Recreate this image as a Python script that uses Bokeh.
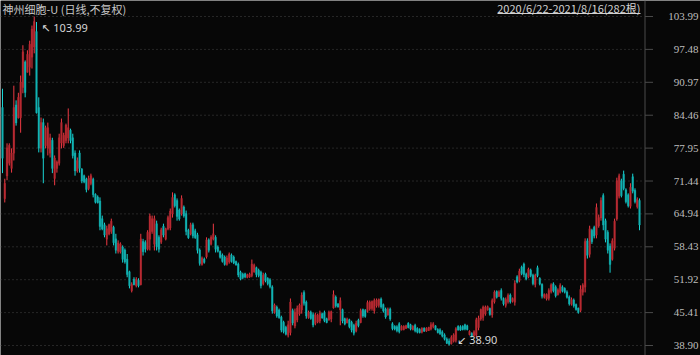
import numpy as np
from bokeh.plotting import figure
from bokeh.models import ColumnDataSource, Range1d, Label, BoxAnnotation, Span
from bokeh.embed import file_html
from bokeh.resources import INLINE

title_text = "神州细胞-U (日线,不复权)"
range_text = "2020/6/22-2021/8/16(282根)"
tick_values = [38.90, 45.41, 51.92, 58.43, 64.94, 71.44, 77.95, 84.46, 90.97, 97.48, 103.99]
tick_labels = ["38.90", "45.41", "51.92", "58.43", "64.94", "71.44", "77.95", "84.46", "90.97", "97.48", "103.99"]

opens = [86, 68, 72.5, 75, 74, 77, 86.5, 84, 84, 90, 95, 93, 94, 96, 98, 101, 86, 78, 83, 78.5,
         78, 77, 79.5, 72, 74, 75, 79, 78.5, 79.5, 80, 81.5, 80, 77, 73.5, 77, 73.8, 72.5, 71.8, 70, 71,
         71.8, 68.8, 68.3, 67.5, 64, 62.8, 60, 61, 61.5, 62.3, 60, 57.6, 57.5, 58.4, 57.8, 56, 53.5, 49.8, 52, 50.8,
         51.8, 51, 59.5, 59.3, 58, 60, 61.5, 59, 63, 60.3, 59.4, 62.5, 60, 62, 62.2, 65, 68.7, 67.6, 65.7, 65,
         66.3, 65, 61.7, 61, 62.8, 61.6, 60.8, 57.8, 55, 56, 56.5, 59.8, 59, 60, 60.3, 58.4, 57.5, 56.8, 56.4, 55,
         55.5, 56.8, 56.4, 55.5, 55, 53.4, 53, 53.1, 52.4, 52.5, 52.8, 53.5, 54.3, 53.8, 53.4, 51.2, 53, 52.2, 51.9, 50.5,
         45.5, 46.5, 45.9, 44.5, 43.5, 42.5, 41, 41.5, 45.8, 42.8, 44, 45.2, 46, 49.4, 47.5, 44.5, 45.5, 45, 43.3, 43.6,
         43.8, 45.2, 45.4, 44.2, 44, 44.2, 46.4, 48.5, 47.1, 46, 46, 44.2, 43.4, 44, 43.5, 42.9, 41.8, 43.9, 43.5, 46,
         45.8, 45.7, 46.2, 46.3, 45.8, 46.8, 46.9, 48.1, 47, 46.1, 45, 46.1, 43.2, 42.7, 42.6, 43.2, 42, 42.1, 42.3, 43.3,
         43, 42.1, 42.9, 42.3, 42.1, 41.6, 42.3, 41.8, 41.9, 42.2, 42.7, 42.8, 42.1, 42, 41.6, 41, 40.2, 39.8, 39.3, 39.8,
         40, 42.7, 42.6, 42.7, 43, 42.8, 41.1, 41.3, 40.9, 41, 42.5, 44.2, 44.5, 45.2, 46, 46.2, 45, 47.6, 49.6, 48.7,
         49.8, 48.2, 46.9, 47.6, 48.9, 47.7, 47.5, 52.5, 51.8, 54.4, 55, 53, 52.5, 53.8, 52.8, 51, 54.3, 52.2, 51, 48.5,
         48.2, 48.3, 49.6, 51.1, 50.5, 49, 49.5, 50.5, 50.2, 49.5, 48.5, 47.1, 47.9, 47, 46.3, 45.9, 49.5, 50.5, 59.6, 57,
         61.7, 62.3, 60.8, 62.6, 64.2, 68.6, 63.6, 61.3, 58.6, 56, 58.2, 64, 68.5, 71.5, 72.8, 69.7, 68.7, 66.5, 72.3, 69.6,
         66.4, 67.6]
highs = [89.7, 71.9, 78.9, 78.9, 77.9, 90.3, 87.4, 88.9, 92.3, 98.3, 95.3, 97.3, 99.2, 102.2, 103.99, 102.9, 88, 84, 83.8, 82.4,
         83, 80.8, 80, 76.5, 75.5, 80.8, 83.8, 81, 82.8, 85.8, 81.8, 80.8, 77.5, 76.1, 77.5, 74, 72.7, 72.1, 72.5, 72.9,
         72.1, 69, 68.6, 68.2, 64.6, 63.2, 62.6, 63, 64, 62.6, 61, 59.7, 59.3, 58.7, 58.1, 57, 53.7, 51.4, 52.4, 52.4,
         52.2, 61, 60, 59.7, 61.7, 65, 64.6, 64.6, 63.6, 60.7, 62.2, 63, 62.2, 64.6, 66, 69.2, 69, 68, 66, 68.6,
         66.6, 65.6, 62, 63.2, 63.2, 62, 61.2, 58.1, 56.5, 56.3, 60.3, 60.1, 60.7, 63, 60.7, 58.7, 57.7, 57.1, 56.7, 56.7,
         57.3, 57.1, 56.7, 55.7, 55.3, 53.7, 53.3, 53.3, 53.1, 53.3, 55.9, 55.1, 54.5, 54.1, 53.7, 53.3, 53.3, 52.4, 52.2, 50.8,
         47.2, 46.8, 46.2, 44.8, 43.8, 42.8, 43.8, 48.2, 46.2, 46.2, 46.8, 47.2, 49.4, 49.8, 47.8, 45.8, 45.8, 45.4, 45.4, 45.2,
         45.8, 45.4, 45.8, 44.4, 45.8, 45.8, 49.8, 48.8, 47.3, 48.4, 46.2, 44.4, 44.4, 44.2, 43.8, 43.2, 43.8, 44.2, 46.2, 46.2,
         46.1, 47.8, 47.8, 47.8, 48.2, 48.2, 48.2, 48.4, 47.2, 46.4, 46.4, 46.4, 43.5, 42.9, 42.9, 43.5, 42.9, 42.9, 43, 43.5,
         43.2, 42.9, 43.2, 42.5, 42.3, 42.5, 42.5, 42.5, 42.6, 43.5, 43.5, 42.9, 42.3, 42.3, 41.9, 41.3, 40.5, 40.3, 40.9, 41.3,
         42.5, 42.9, 42.9, 42.9, 43.2, 43, 41.9, 41.5, 41.9, 44.4, 44.8, 46.2, 46.8, 46.8, 46.8, 46.4, 48.2, 49.8, 49.8, 49.8,
         50.2, 48.4, 48.4, 49.2, 49.2, 48.4, 51.8, 52.8, 54.1, 54.7, 55.3, 53.3, 54.3, 54.1, 53.1, 53.1, 54.7, 52.4, 51.2, 49.2,
         49.2, 50.2, 51.2, 51.4, 50.8, 50.2, 51.2, 50.8, 50.4, 49.8, 48.8, 48.4, 48.2, 47.2, 46.4, 50.8, 51.2, 60.1, 60.1, 62.6,
         62, 62.6, 67, 64.8, 68.2, 69, 64, 61.7, 59.1, 60.1, 64, 72.1, 72.9, 71.9, 73.5, 70, 69, 71, 72.9, 70,
         68.2, 68]
lows = [73, 67.2, 71.6, 74.5, 73.1, 75.5, 82.4, 83.8, 81, 88.8, 88, 92.9, 92.3, 93.7, 96.7, 84.8, 77.1, 77.1, 71, 77.9,
        76.5, 76.1, 73, 70.6, 73.1, 74.5, 77.9, 78, 78.9, 78.9, 78.9, 75.9, 72.5, 73.1, 73.1, 71, 71, 69.2, 69.6, 70.6,
        68.2, 67, 67, 61.7, 61.7, 60.3, 58.7, 60.7, 61, 58.7, 57.1, 57.1, 57.1, 55.3, 55.1, 52.4, 50.2, 49.4, 50.8, 50.4,
        50.4, 50.8, 56.7, 57.3, 57.7, 57.7, 61, 57.7, 57.7, 57.3, 59, 60.3, 59.7, 61.7, 61.7, 64.2, 66.2, 63.6, 63.6, 64.6,
        64.2, 60.7, 60, 60.7, 60.1, 60, 57.1, 54.7, 54.7, 55.1, 56.1, 57.3, 58.7, 59.7, 57.3, 57.3, 56.1, 55.3, 54.7, 54.7,
        55.1, 55.3, 55, 54.7, 52.4, 51.8, 52, 52.2, 52.2, 52.3, 52.4, 53.3, 52.4, 52.4, 50.2, 50.8, 51.4, 50.8, 50.2, 45.2,
        45.2, 44.4, 44.2, 41.5, 41.3, 40.9, 40.5, 40.9, 42.9, 42.3, 43.5, 44.8, 45.2, 46.8, 44.2, 44.2, 44, 42.5, 42.9, 43.3,
        43.3, 44.2, 43.5, 43.3, 43.8, 43.5, 46.2, 46.4, 46.4, 42.9, 43.3, 42.9, 43.3, 42.3, 41.5, 40.9, 41.5, 42.5, 43.3, 44.4,
        44.4, 45.4, 45.8, 45.8, 45.2, 46.4, 46.4, 46.2, 45.4, 44.2, 44.8, 43.8, 41.9, 41.9, 41.5, 41.3, 41.9, 41.9, 42.2, 42.3,
        41.9, 41.9, 41.5, 41.3, 41.3, 41.3, 41.6, 41.6, 41.8, 41.9, 42.3, 41.9, 41.3, 41, 40.5, 39.9, 39.2, 38.9, 39.1, 39.5,
        39.5, 41.9, 41.8, 41.9, 41.9, 41.9, 40.9, 40.5, 40.7, 40.5, 41.9, 43.8, 43.8, 44.8, 45.8, 44.8, 44.4, 47.2, 48.2, 48.5,
        47.8, 46.8, 46.4, 47.2, 47.2, 47.4, 46.8, 51.2, 51.4, 52.8, 52.4, 51.8, 52.2, 52.4, 50.8, 50.4, 52.4, 50.8, 48.2, 48.2,
        47.8, 47.8, 49.2, 49.4, 48.4, 48.8, 49.2, 49.4, 49.2, 48.2, 46.8, 46.8, 46.4, 45.8, 45.2, 45.5, 48.8, 49.4, 56.1, 56.3,
        59, 60.1, 60.1, 62.2, 63.6, 61.7, 59.3, 57.1, 53.3, 55.7, 57.7, 63.6, 68, 68.2, 69.6, 67, 66.2, 66, 69, 67,
        66, 61.7]
closes = [76, 71, 78, 78.5, 77, 86, 83, 88, 91, 97, 89, 96.5, 98.5, 101.5, 103, 85, 78, 83, 76, 82,
          82, 80, 74, 76, 75.2, 80, 83, 80.5, 82.5, 82, 79.5, 76.5, 73.5, 75.5, 74, 71.5, 71.3, 69.8, 72, 72.5,
          68.8, 67.3, 67.2, 62.5, 62, 60.8, 62, 62.8, 63.5, 59.3, 57.8, 59.2, 59, 56, 55.5, 53, 50.8, 51, 51, 52,
          50.8, 60, 57.5, 58, 61.3, 64.5, 64, 64, 58.5, 58, 61.8, 60.8, 62, 64.2, 65.5, 68.2, 66.6, 64.5, 64, 68,
          64.6, 61.5, 60.3, 62.8, 60.6, 60.3, 57.8, 55.2, 56.2, 55.4, 59.8, 57.8, 60.3, 61, 58, 57.6, 56.4, 55.6, 55, 56.2,
          57, 55.6, 55.3, 54.9, 52.9, 52.1, 52.4, 52.5, 52.9, 53, 55, 54.8, 53, 52.8, 50.8, 52.8, 51.8, 51.2, 50.6, 45.8,
          46.9, 44.8, 44.5, 42, 41.7, 41.2, 43, 47.5, 43.4, 45.5, 46.3, 46.9, 48.9, 47.3, 44.8, 45.5, 44.3, 43, 45, 44.9,
          45.3, 44.4, 43.9, 43.5, 45.5, 45.6, 49, 46.8, 46.6, 47.8, 43.8, 43.2, 44.1, 42.7, 42, 41.4, 43.3, 42.9, 45.8, 44.8,
          44.7, 47.4, 47.5, 47.6, 47.8, 47.9, 48, 46.6, 45.8, 44.6, 46, 44.2, 42.3, 42.2, 41.9, 41.7, 42.7, 42.7, 42.8, 42.5,
          42.2, 42.7, 41.9, 41.6, 41.5, 42.3, 41.8, 42.3, 42.5, 43, 43.2, 42.1, 41.5, 41.3, 40.8, 40.2, 39.4, 39.2, 40.5, 41,
          42.2, 42, 42, 42.1, 42.2, 42.1, 41.7, 40.7, 41.6, 44, 44.3, 46, 46.5, 46.5, 46.6, 45.1, 47.8, 49.5, 48.5, 49.5,
          48.3, 47.2, 48, 48.8, 47.6, 48.2, 51.2, 51.5, 53.6, 53.2, 53, 52.1, 54, 52.8, 51.2, 52.8, 52.8, 51.1, 48.7, 49,
          49, 49.8, 50.9, 49.8, 48.8, 49.9, 50.8, 49.7, 49.5, 48.5, 47.2, 48, 46.8, 46.1, 45.5, 50, 50.8, 59.5, 56.8, 62,
          59.5, 60.6, 66.2, 64.2, 67.6, 62.8, 60, 57.8, 55, 59.6, 63.5, 71.5, 72.5, 68.6, 70, 67.4, 66.6, 70.2, 69.5, 67.4,
          67.8, 62.8]

o = np.array(opens, dtype=float)
h = np.array(highs, dtype=float)
l = np.array(lows, dtype=float)
c = np.array(closes, dtype=float)
idx = np.arange(len(c))
up = c >= o

BG = "#070707"
PX_PER_UNIT = 329 / (103.99 - 38.90)
Y_TOP = 103.99 + 16 / PX_PER_UNIT
Y_BOT = 38.90 - 10 / PX_PER_UNIT
STEP = 2.267


def xdata(px):
    return (px - 2) / STEP


def ydata(py):
    return Y_TOP - py / PX_PER_UNIT


src = ColumnDataSource(dict(
    x=idx, high=h, low=l,
    top=np.maximum(o, c), bottom=np.minimum(o, c) - 0.06,
    wick=np.where(up, "#ee3a44", "#19d6d6"),
    body=np.where(up, "#b92a32", "#12b3b3"),
))

p = figure(width=700, height=355, output_backend="svg", toolbar_location=None,
           x_range=Range1d(xdata(0), xdata(700)), y_range=Range1d(Y_BOT, Y_TOP),
           x_axis_location=None, y_axis_location=None,
           min_border_left=0, min_border_right=0, min_border_top=0, min_border_bottom=0,
           background_fill_color=BG, border_fill_color=BG, outline_line_color=None)
p.grid.visible = False

# price scale at the right: dotted guide lines, axis line, ticks and labels
n_t = len(tick_values)
tick_src = ColumnDataSource(dict(
    y=tick_values, label=tick_labels,
    gx0=[xdata(0)] * n_t, gx1=[xdata(643)] * n_t,
    tx0=[xdata(644.5)] * n_t, tx1=[xdata(652.5)] * n_t,
    lx=[xdata(698)] * n_t,
))
p.segment(x0="gx0", y0="y", x1="gx1", y1="y", line_color="#474747", line_width=1,
          line_dash="1 3", source=tick_src)
p.add_layout(Span(location=xdata(644.5), dimension="height", line_color="#4a4a4a", line_width=1))
p.segment(x0="tx0", y0="y", x1="tx1", y1="y", line_color="#4a4a4a", line_width=1, source=tick_src)
p.text(x="lx", y="y", text="label", text_align="right", text_baseline="middle",
       text_color="#bdbdbd", text_font_size="11px", text_font="Noto Sans", source=tick_src)

# candles
p.segment(x0="x", y0="low", x1="x", y1="high", line_color="wick", line_width=1, source=src)
p.vbar(x="x", width=0.7, top="top", bottom="bottom", fill_color="body", line_color="body",
       line_width=0.4, source=src)

# header texts
p.add_layout(Label(x=2, x_units="screen", y=ydata(8), text=title_text, text_align="left",
                   text_baseline="middle", text_color="#c8c8c8", text_font_size="11px",
                   text_font="Noto Sans CJK SC"))
p.add_layout(Label(x=640, x_units="screen", y=ydata(7.5), text=range_text, text_align="right",
                   text_baseline="middle", text_color="#d2d2d2", text_font_size="11px",
                   text_font="Noto Sans CJK SC"))
p.add_layout(BoxAnnotation(left=497, right=640, left_units="screen", right_units="screen",
                           top=ydata(12.6), bottom=ydata(13.6), fill_color="#d2d2d2",
                           fill_alpha=1, line_color=None))

# extreme markers
imax = int(np.argmax(h))
imin = int(np.argmin(l))
p.add_layout(Label(x=imax, y=h[imax] - 11 / PX_PER_UNIT, x_offset=7,
                   text="\u2196 " + f"{h[imax]:.2f}", text_align="left", text_baseline="middle",
                   text_color="#d6d6d6", text_font_size="11px",
                   text_font="Noto Sans, DejaVu Sans"))
p.add_layout(Label(x=imin, y=l[imin] + 6 / PX_PER_UNIT, x_offset=8,
                   text="\u2199 " + f"{l[imin]:.2f}", text_align="left", text_baseline="middle",
                   text_color="#d6d6d6", text_font_size="11px",
                   text_font="Noto Sans, DejaVu Sans"))

open("out.html", "w").write(file_html(p, INLINE))
